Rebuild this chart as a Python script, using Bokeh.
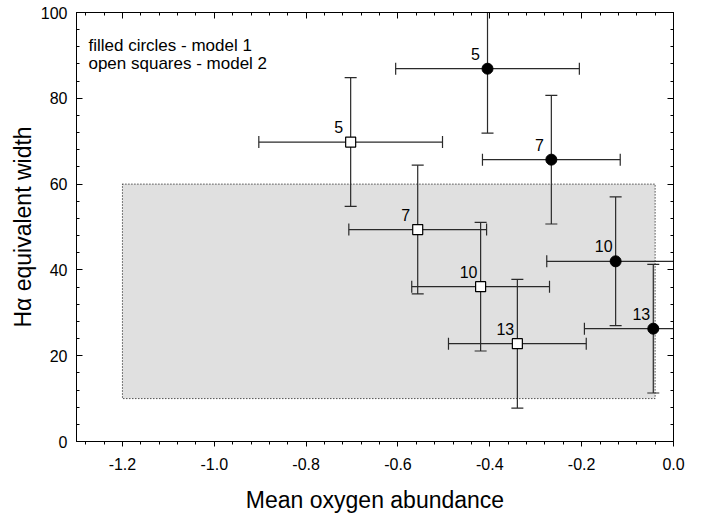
import numpy as np
from bokeh.plotting import figure
from bokeh.models import (FixedTicker, LinearAxis, Range1d, Label, PrintfTickFormatter,
                          CustomLabelingPolicy)
from bokeh.embed import file_html
from bokeh.resources import INLINE
from bokeh.core.properties import value

# ---------------- data ----------------
m1_x = [-0.405, -0.266, -0.126, -0.044]
m1_y = [86.9, 65.7, 42.0, 26.3]
m1_xerr = [0.20, 0.15, 0.15, 0.15]
m1_yerr = [15, 15, 15, 15]
m1_labels = ["5", "7", "10", "13"]

m2_x = [-0.703, -0.557, -0.420, -0.340]
m2_y = [69.8, 49.4, 36.1, 22.8]
m2_xerr = [0.20, 0.15, 0.15, 0.15]
m2_yerr = [15, 15, 15, 15]
m2_labels = ["5", "7", "10", "13"]

region_x = [-1.2, -0.04]
region_y = [10, 60]

x_ticks = [-1.2, -1.0, -0.8, -0.6, -0.4, -0.2, 0.0]
x_tick_labels = ["-1.2", "-1.0", "-0.8", "-0.6", "-0.4", "-0.2", "0.0"]
y_ticks = [0, 20, 40, 60, 80, 100]
y_tick_labels = ["0", "20", "40", "60", "80", "100"]
x_minor = [round(v, 2) for v in np.arange(-1.28, 0.001, 0.04)]
y_minor = list(range(0, 101, 4))

FONT = "Liberation Sans"
LINE = "#2a2a2a"

p = figure(width=712, height=517, x_range=Range1d(-1.3, 0.0), y_range=Range1d(0, 100),
           output_backend="svg", toolbar_location=None,
           min_border_left=76, min_border_right=39, min_border_top=12, min_border_bottom=76)
p.xgrid.visible = False
p.ygrid.visible = False
p.outline_line_color = "black"
p.outline_line_width = 1
p.background_fill_color = "white"
p.border_fill_color = "white"

xt = FixedTicker(ticks=x_ticks, minor_ticks=x_minor)
yt = FixedTicker(ticks=y_ticks, minor_ticks=y_minor)

bx = p.xaxis[0]
bx.ticker = xt
bx.formatter = PrintfTickFormatter(format="%.1f")
bx.major_label_overrides = dict(zip(x_ticks, x_tick_labels))
bx.axis_label = "Mean oxygen abundance"
bx.major_tick_in = 0
bx.major_tick_out = 5
bx.minor_tick_in = 0
bx.minor_tick_out = 3
bx.major_label_standoff = 11
bx.axis_label_standoff = 14

ly = p.yaxis[0]
ly.ticker = yt
ly.major_label_overrides = dict(zip(y_ticks, y_tick_labels))
ly.axis_label = "H\u03b1 equivalent width"
ly.major_tick_in = 6
ly.major_tick_out = 0
ly.minor_tick_in = 3
ly.minor_tick_out = 0
ly.major_label_standoff = 9
ly.axis_label_standoff = 2

for ax in (bx, ly):
    ax.major_label_text_font = FONT
    ax.major_label_text_font_size = "16px"
    ax.major_label_text_color = "black"
    ax.axis_label_text_font = FONT
    ax.axis_label_text_font_size = "23px"
    ax.axis_label_text_font_style = "normal"
    ax.axis_label_text_color = "black"
    ax.axis_line_color = "black"
    ax.major_tick_line_color = "black"
    ax.minor_tick_line_color = "black"

top = LinearAxis(ticker=xt, major_label_policy=CustomLabelingPolicy(code="return new Set()"),
                 major_label_standoff=0,
                 major_tick_in=6, major_tick_out=0, minor_tick_in=3, minor_tick_out=0)
right = LinearAxis(ticker=yt, major_label_policy=CustomLabelingPolicy(code="return new Set()"),
                   major_label_standoff=0,
                   major_tick_in=6, major_tick_out=0, minor_tick_in=3, minor_tick_out=0)
p.add_layout(top, "above")
p.add_layout(right, "right")

# shaded region
p.quad(left=[region_x[0]], right=[region_x[1]], bottom=[region_y[0]], top=[region_y[1]],
       fill_color="#e0e0e0", line_color="black", line_dash="1 2", line_width=1)


def draw_errors(x, y, xe, ye):
    x = np.array(x); y = np.array(y); xe = np.array(xe); ye = np.array(ye)
    p.segment(x0=x - xe, y0=y, x1=x + xe, y1=y, line_color=LINE, line_width=1.2)
    p.segment(x0=x, y0=y - ye, x1=x, y1=y + ye, line_color=LINE, line_width=1.2)
    p.scatter(x=np.concatenate([x - xe, x + xe]), y=np.concatenate([y, y]), marker="dash",
              size=12, angle=np.pi / 2, line_color=LINE, line_width=1.2)
    p.scatter(x=np.concatenate([x, x]), y=np.concatenate([y - ye, y + ye]), marker="dash",
              size=12, line_color=LINE, line_width=1.2)


draw_errors(m1_x, m1_y, m1_xerr, m1_yerr)
draw_errors(m2_x, m2_y, m2_xerr, m2_yerr)

p.scatter(x=m1_x, y=m1_y, marker="circle", size=11, fill_color="black", line_color="black")
p.scatter(x=m2_x, y=m2_y, marker="square", size=10, fill_color="white", line_color="black",
          line_width=1.2)

for xs, ys, labs in ((m1_x, m1_y, m1_labels), (m2_x, m2_y, m2_labels)):
    p.text(x=xs, y=ys, text=labs, text_align="center", text_baseline="middle",
           x_offset=-12, y_offset=-15, text_font=value(FONT), text_font_size="16px",
           text_color="black")

p.add_layout(Label(x=-1.274, y=92.3, text="filled circles - model 1", text_font=FONT,
                   text_font_size="17px", text_baseline="alphabetic", text_color="black"))
p.add_layout(Label(x=-1.274, y=88.0, text="open squares  - model 2", text_font=FONT,
                   text_font_size="17px", text_baseline="alphabetic", text_color="black"))

open("out.html", "w").write(file_html(p, INLINE))
